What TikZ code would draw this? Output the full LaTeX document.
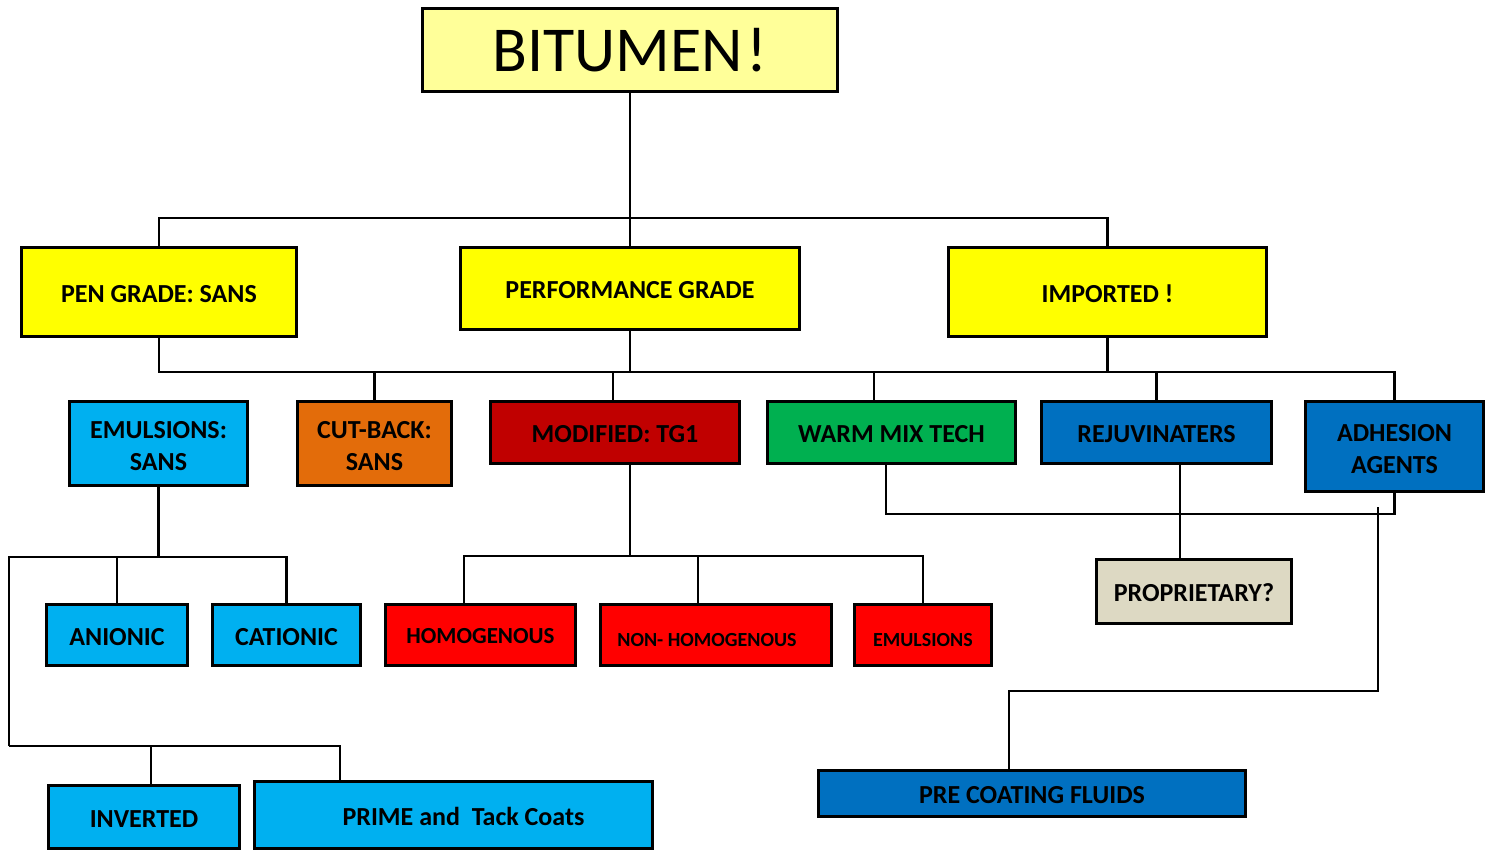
\documentclass[tikz,border=0pt]{standalone}
\usepackage{fontspec}
\setmainfont{Carlito}
\definecolor{cBit}{HTML}{FFFF99}
\definecolor{cYel}{HTML}{FFFF00}
\definecolor{cCyan}{HTML}{00B0F0}
\definecolor{cOr}{HTML}{E36C0A}
\definecolor{cDred}{HTML}{C00000}
\definecolor{cGreen}{HTML}{00B050}
\definecolor{cBlue}{HTML}{0070C0}
\definecolor{cRed}{HTML}{FF0000}
\definecolor{cBeige}{HTML}{DDD9C3}
\tikzset{
  box/.style={draw=black, line width=2.8pt, inner sep=0pt, align=center,
              text height=21pt,
              font=\bfseries\fontsize{26}{32}\selectfont},
  twoline/.style={text height=54pt},
  smallred/.style={text height=23pt, font=\bfseries\fontsize{20}{24}\selectfont},
  midred/.style={text height=17pt, font=\bfseries\fontsize{23}{28}\selectfont},
  title/.style={text height=44pt, font=\mdseries\fontsize{64}{70}\selectfont},
  con/.style={draw=black, line width=2.7pt},
}
\newcommand\bx[8][]{\node[box,#1,fill=#7,minimum width={(#5-#3-3)*1pt},minimum height={(#6-#4-3)*1pt}] (#2) at ({(#3+#5)/2},{(#4+#6)/2}) {#8};}
\begin{document}
\begin{tikzpicture}[x=1pt,y=-1pt]
\useasboundingbox[fill=white] (0,0) rectangle (1490,858);
% boxes
\bx[title]{bit}{421}{7}{839}{93}{cBit}{BITUMEN\kern4pt!}
\bx{pen}{20}{246}{298}{338}{cYel}{PEN GRADE: SANS}
\bx{perf}{459}{246}{801}{331}{cYel}{PERFORMANCE GRADE}
\bx{imp}{947}{246}{1268}{338}{cYel}{IMPORTED !}
\bx[twoline]{emul}{68}{400}{249}{487}{cCyan}{EMULSIONS:\\SANS}
\bx[twoline]{cut}{296}{400}{453}{487}{cOr}{CUT-BACK:\\SANS}
\bx{mod}{489}{400}{741}{465}{cDred}{MODIFIED: TG1}
\bx{warm}{766}{400}{1017}{465}{cGreen}{WARM MIX TECH}
\bx{rej}{1040}{400}{1273}{465}{cBlue}{REJUVINATERS}
\bx[twoline]{adh}{1304}{400}{1485}{493}{cBlue}{ADHESION\\AGENTS}
\bx{prop}{1095}{558}{1293}{625}{cBeige}{PROPRIETARY?}
\bx{pre}{817}{769}{1247}{818}{cBlue}{PRE COATING FLUIDS}
\bx{anio}{45}{603}{189}{667}{cCyan}{ANIONIC}
\bx{cat}{211}{603}{362}{667}{cCyan}{CATIONIC}
\bx{inv}{47}{784}{241}{850}{cCyan}{INVERTED}
\bx{prime}{253}{780}{654}{850}{cCyan}{\hspace*{20pt}PRIME and\ \ Tack Coats}
\bx[midred]{homo}{384}{603}{577}{667}{cRed}{HOMOGENOUS}
\bx[smallred]{nonh}{599}{603}{833}{667}{cRed}{NON- HOMOGENOUS\hspace*{18pt}}
\bx[smallred]{emu2}{853}{603}{993}{667}{cRed}{EMULSIONS}
% junction coordinates
\coordinate (jA) at (630,218);
\coordinate (jB) at (630,372);
\coordinate (jW) at (886,514);
\coordinate (jR) at (1180,0);
\coordinate (aS) at (1378,507);
\coordinate (aP) at (1009,691);
\coordinate (jE) at (9,557);
\coordinate (jI) at (9,746);
\coordinate (dI) at (151,746);
\coordinate (dP) at (340,746);
\coordinate (jM) at (630,556);
\coordinate (dH) at (464,556);
\coordinate (dN) at (698,556);
\coordinate (dMod) at (613,372);
\coordinate (dW) at (874,372);
% connectors
\draw[con] (bit.south) -- (perf.north);
\draw[con] (pen.north) -- (pen.north |- jA) -- (imp.north |- jA) -- (imp.north);
\draw[con] (pen.south) -- (pen.south |- jB) -- (adh.north |- jB) -- (adh.north);
\draw[con] (perf.south) -- (jB);
\draw[con] (imp.south) -- (imp.south |- jB);
\draw[con] (cut.north |- jB) -- (cut.north);
\draw[con] (dMod) -- (mod.north -| dMod);
\draw[con] (dW) -- (warm.north -| dW);
\draw[con] (rej.north |- jB) -- (rej.north);
\draw[con] (warm.south -| jW) -- (jW) -- (adh.south |- jW) -- (adh.south);
\draw[con] (rej.south -| jR) -- (prop.north -| jR);
\draw[con] (aS) -- (aS |- aP) -- (aP) -- (pre.north -| aP);
\draw[con] (emul.south) -- (emul.south |- jE);
\draw[con] (jI) -- (jE) -- (cat.north |- jE) -- (cat.north);
\draw[con] (anio.north |- jE) -- (anio.north);
\draw[con] (jI) -- (dP) -- (prime.north -| dP);
\draw[con] (dI) -- (inv.north -| dI);
\draw[con] (mod.south -| jM) -- (jM);
\draw[con] (homo.north -| dH) -- (dH) -- (emu2.north |- dH) -- (emu2.north);
\draw[con] (dN) -- (nonh.north -| dN);
\end{tikzpicture}
\end{document}
